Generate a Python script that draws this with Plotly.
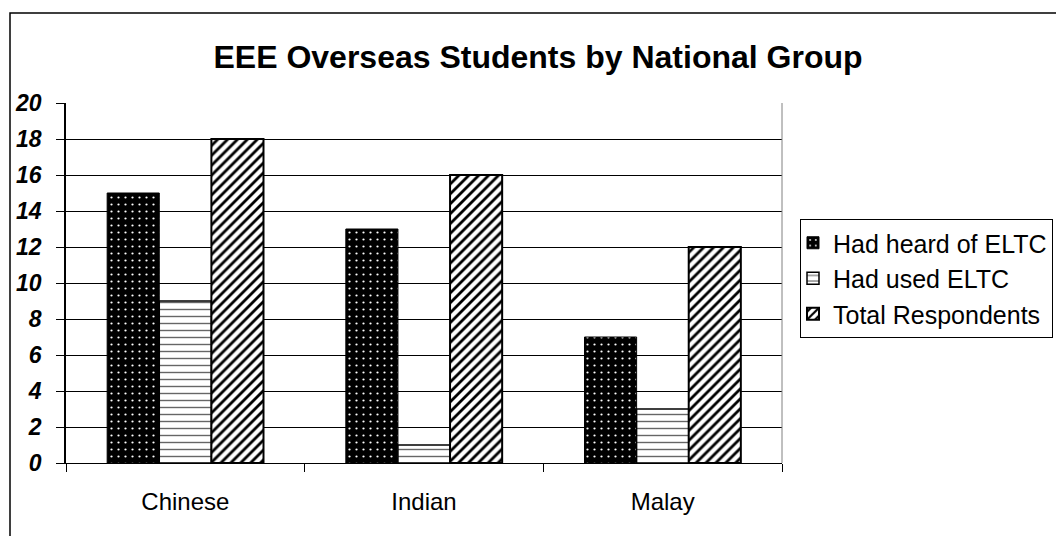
import plotly.graph_objects as go

categories = ["Chinese", "Indian", "Malay"]
heard = [15, 13, 7]
used = [9, 1, 3]
total = [18, 16, 12]
series_names = ["Had heard of ELTC", "Had used ELTC", "Total Respondents"]
y_ticks = [0, 2, 4, 6, 8, 10, 12, 14, 16, 18, 20]

W, H = 1056, 536
L, R, T, B = 66, 782, 103, 463
FONT = "Arial, Liberation Sans, sans-serif"

fig = go.Figure()
fig.add_trace(go.Bar(
    x=categories, y=heard, name=series_names[0],
    marker=dict(color="black", line=dict(color="black", width=1),
                pattern=dict(shape=".", bgcolor="black", fgcolor="white", size=7, solidity=0.08,
                             fillmode="replace")),
))
fig.add_trace(go.Bar(
    x=categories, y=used, name=series_names[1],
    marker=dict(color="white", line=dict(color="black", width=1.5),
                pattern=dict(shape="-", bgcolor="white", fgcolor="#666666", size=7, solidity=0.2,
                             fillmode="replace")),
))
fig.add_trace(go.Bar(
    x=categories, y=total, name=series_names[2],
    marker=dict(color="white", line=dict(color="black", width=2),
                pattern=dict(shape="/", bgcolor="white", fgcolor="black", size=7, solidity=0.4,
                             fillmode="replace")),
))

# outer chart border
fig.add_shape(type="rect", xref="paper", yref="paper",
              x0=(10 - L) / (R - L), x1=(1062 - L) / (R - L),
              y0=-(545 - B) / (B - T), y1=1 + (T - 13) / (B - T),
              line=dict(color="black", width=1.5), fillcolor="rgba(0,0,0,0)", layer="below")

fig.update_layout(
    width=W, height=H,
    margin=dict(l=L, r=W - R, t=T, b=H - B, pad=0, autoexpand=False),
    paper_bgcolor="white", plot_bgcolor="white",
    barmode="group", bargap=0.345, bargroupgap=0,
    font=dict(family=FONT, color="black"),
    title=dict(text="<b>EEE Overseas Students by National Group</b>",
               font=dict(size=32, family=FONT, color="black"),
               xref="paper", x=(538 - L) / (R - L), xanchor="center",
               yref="container", y=1 - 57 / H, yanchor="middle"),
    legend=dict(x=(800 - L) / (R - L), y=(B - 219) / (B - T), xanchor="left", yanchor="top",
                bordercolor="black", borderwidth=1, bgcolor="white",
                font=dict(size=25, family=FONT, color="black"),
                itemwidth=30, tracegroupgap=0, indentation=-8),
    showlegend=True,
)
fig.update_xaxes(showline=True, linecolor="black", linewidth=1, ticks="outside",
                 tickson="boundaries", ticklen=8, tickcolor="black",
                 ticklabelstandoff=17,
                 tickfont=dict(size=24, family=FONT, color="black"),
                 showgrid=False, mirror=False, automargin=False)
fig.update_yaxes(range=[0, 20], tickvals=y_ticks, showline=True, linecolor="black", linewidth=1.5,
                 ticks="outside", ticklen=8, tickcolor="black", ticklabelstandoff=10,
                 showgrid=True, gridcolor="black", gridwidth=1, zeroline=False, automargin=False,
                 tickfont=dict(size=23, family=FONT, color="black",
                               weight="bold", style="italic"))
# right border of plot area
fig.add_shape(type="line", xref="paper", yref="paper", x0=1, x1=1, y0=0, y1=1,
              line=dict(color="#808080", width=1))

fig.write_html("out.html")
